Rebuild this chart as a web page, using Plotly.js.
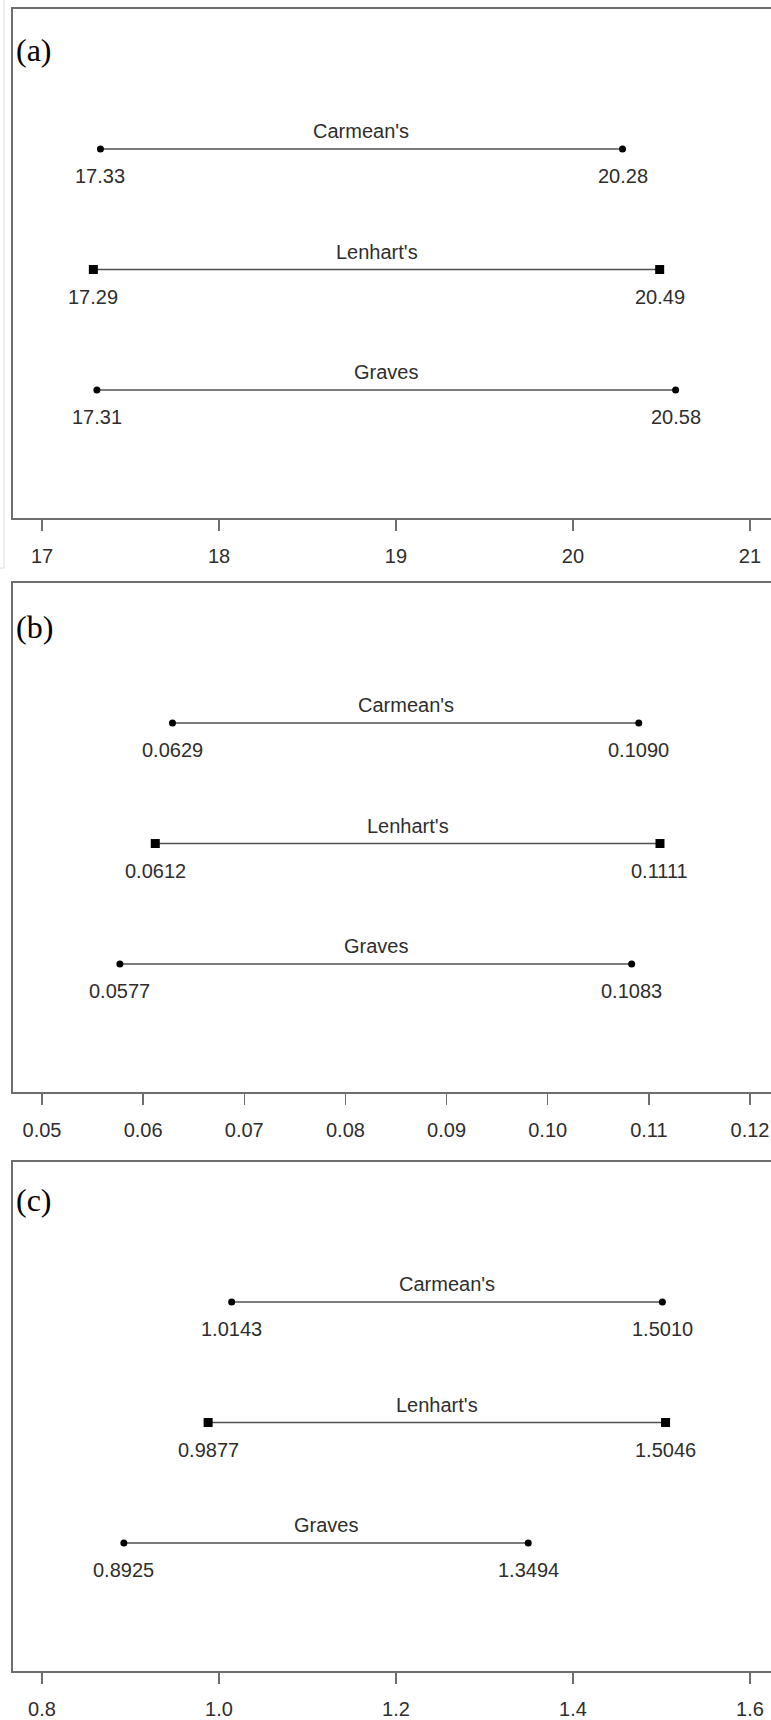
<!DOCTYPE html>
<html>
<head>
<meta charset="utf-8">
<script src="https://cdn.plot.ly/plotly-3.0.1.min.js"></script>
<style>
html,body{margin:0;padding:0;background:#fff;}
#chart{width:771px;height:1720px;}
</style>
</head>
<body>
<div id="chart"></div>
<script>
// ---- data ----
const methods = ["Carmean's", "Lenhart's", "Graves"];
const rowPos = [3, 2, 1];
const lowerA = [17.33, 17.29, 17.31];
const upperA = [20.28, 20.49, 20.58];
const lowerB = [0.0629, 0.0612, 0.0577];
const upperB = [0.1090, 0.1111, 0.1083];
const lowerC = [1.0143, 0.9877, 0.8925];
const upperC = [1.5010, 1.5046, 1.3494];
const ticksA = [17, 18, 19, 20, 21];
const tickTextA = ["17", "18", "19", "20", "21"];
const ticksB = [0.05, 0.06, 0.07, 0.08, 0.09, 0.10, 0.11, 0.12];
const tickTextB = ["0.05", "0.06", "0.07", "0.08", "0.09", "0.10", "0.11", "0.12"];
const ticksC = [0.8, 1.0, 1.2, 1.4, 1.6];
const tickTextC = ["0.8", "1.0", "1.2", "1.4", "1.6"];
const panelLetters = ["(a)", "(b)", "(c)"];
const decimals = [2, 4, 4];

// ---- styling / layout ----
const W = 771, H = 1720;
const mL = 13, mR = 0, mT = 9, mB = 49;
const plotH = H - mT - mB;
const panelsPx = [[9, 518], [583, 1092], [1162, 1671]];
const letterOff = [41, 44, 38];
const xRanges = [[16.836, 21.119], [0.047134, 0.122075], [0.76723, 1.62373]];
const yRange = [-0.062, 4.162];
const markerSym = ["circle", "square", "circle"];
const markerSize = [7, 9, 7];
const textFont = {family: "Liberation Sans, Arial, sans-serif", size: 20, color: "#2e2e2e"};

const panels = [
  {lo: lowerA, hi: upperA, ticks: ticksA, tt: tickTextA},
  {lo: lowerB, hi: upperB, ticks: ticksB, tt: tickTextB},
  {lo: lowerC, hi: upperC, ticks: ticksC, tt: tickTextC}
];

const data = [];
const annotations = [];
const layout = {
  width: W, height: H,
  margin: {l: mL, r: mR, t: mT, b: mB, pad: 0},
  paper_bgcolor: "#fff", plot_bgcolor: "#fff",
  showlegend: false,
  hovermode: false,
  shapes: [
    {type: "line", xref: "paper", yref: "paper",
     x0: (4 - mL) / (W - mL - mR), x1: (4 - mL) / (W - mL - mR),
     y0: 1 + mT / plotH, y1: (H - mB - 568) / plotH,
     line: {color: "#dcdcdc", width: 1}},
    {type: "line", xref: "paper", yref: "paper",
     x0: (0 - mL) / (W - mL - mR), x1: (4 - mL) / (W - mL - mR),
     y0: (H - mB - 568) / plotH, y1: (H - mB - 568) / plotH,
     line: {color: "#dcdcdc", width: 1}}
  ]
};

panels.forEach((p, i) => {
  const sfx = i === 0 ? "" : String(i + 1);
  const xa = "x" + sfx, ya = "y" + sfx;
  const [top, bot] = panelsPx[i];
  const dom = [(H - mB - bot) / plotH, (H - mB - top) / plotH];

  layout["xaxis" + sfx] = {
    anchor: ya, domain: [0, 1], range: xRanges[i],
    showgrid: false, zeroline: false,
    showline: true, mirror: true, linecolor: "#6e6e6e", linewidth: 2,
    ticks: "outside", ticklen: 11, tickwidth: 1.5, tickcolor: "#6e6e6e",
    tickmode: "array", tickvals: p.ticks, ticktext: p.tt,
    tickfont: textFont, ticklabelstandoff: 8
  };
  layout["yaxis" + sfx] = {
    anchor: xa, domain: dom, range: yRange,
    showgrid: false, zeroline: false,
    showline: true, mirror: false, linecolor: "#6e6e6e", linewidth: 2,
    showticklabels: false, ticks: ""
  };

  methods.forEach((m, k) => {
    data.push({
      type: "scatter", mode: "lines+markers",
      x: [p.lo[k], p.hi[k]], y: [rowPos[k], rowPos[k]],
      xaxis: xa, yaxis: ya,
      line: {color: "#505050", width: 1.6},
      marker: {symbol: markerSym[k], size: markerSize[k], color: "#000"},
      cliponaxis: false
    });
    annotations.push({
      xref: xa, yref: ya, x: (p.lo[k] + p.hi[k]) / 2, y: rowPos[k],
      text: m, showarrow: false, xanchor: "center", yanchor: "middle",
      yshift: 18, font: textFont
    });
    [p.lo[k], p.hi[k]].forEach(v => {
      annotations.push({
        xref: xa, yref: ya, x: v, y: rowPos[k],
        text: v.toFixed(decimals[i]), showarrow: false,
        xanchor: "center", yanchor: "middle",
        yshift: -27, font: textFont
      });
    });
  });

  annotations.push({
    xref: "paper", yref: ya + " domain", x: 0, y: 1 - letterOff[i] / (bot - top),
    text: panelLetters[i], showarrow: false, xanchor: "left", yanchor: "middle",
    xshift: 1,
    font: {family: "Liberation Serif, Times New Roman, serif", size: 32, color: "#000"}
  });
});

layout.annotations = annotations;

Plotly.newPlot("chart", data, layout, {staticPlot: true, displayModeBar: false});
</script>
</body>
</html>
